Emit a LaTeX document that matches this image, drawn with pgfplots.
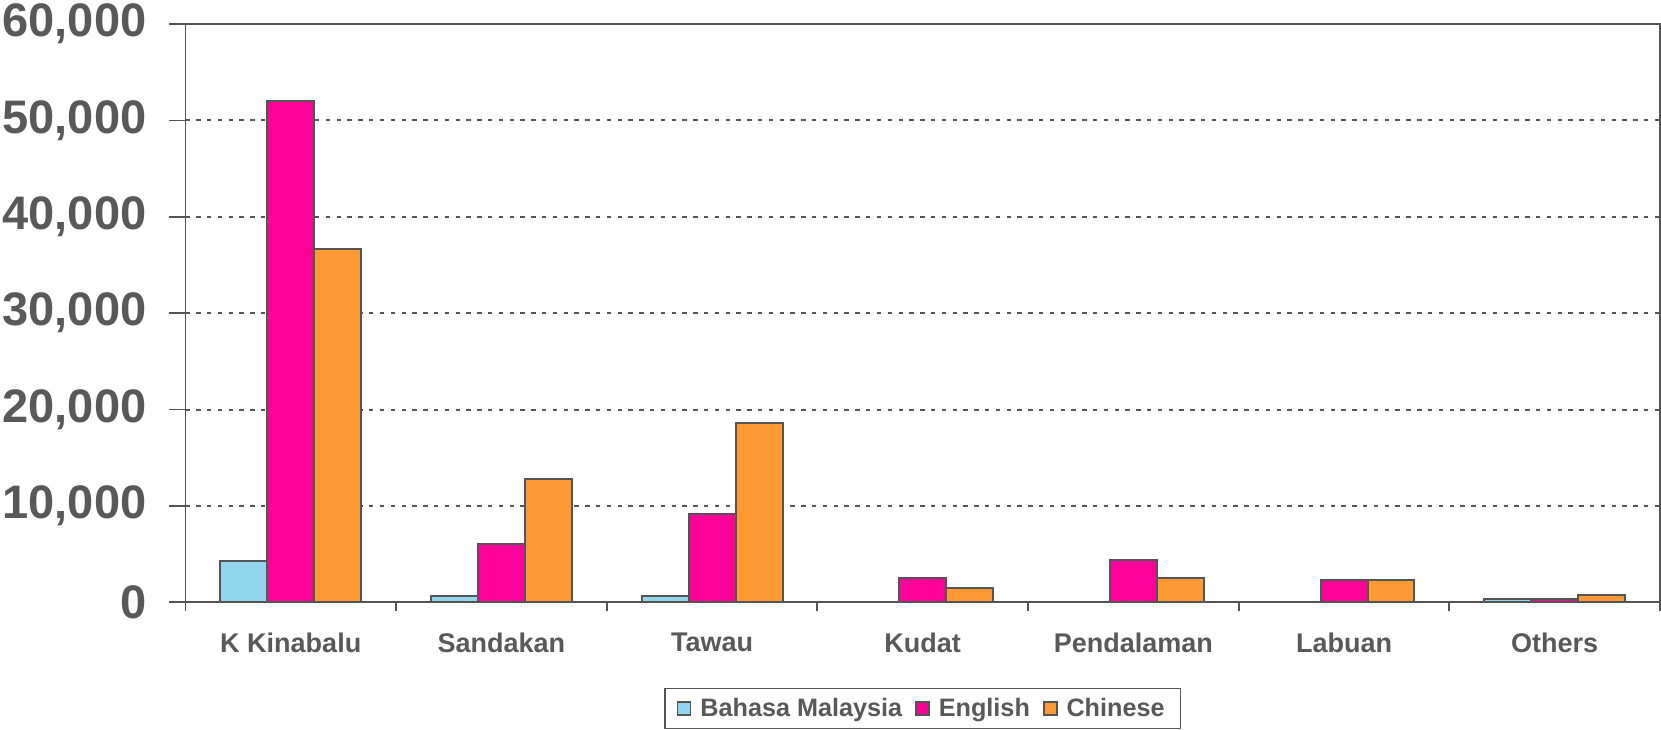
\documentclass[border=0pt]{standalone}
\usepackage{pgfplots}
\pgfplotsset{compat=1.18}
\usepackage{fontspec}
\setmainfont{Liberation Sans}
\definecolor{bmblue}{HTML}{93D5EC}
\definecolor{engpink}{HTML}{FF0099}
\definecolor{chiorange}{HTML}{FF9933}
\definecolor{edge}{HTML}{555555}
\definecolor{txt}{HTML}{595959}
\begin{document}
\begin{tikzpicture}
\begin{axis}[
  scale only axis,
  width=737pt, height=289pt,
  xmin=-0.5, xmax=6.5,
  ymin=0, ymax=60000,
  ytick={0,10000,...,60000},
  xtick={0,...,6},
  xticklabels={K Kinabalu,Sandakan,Tawau,Kudat,Pendalaman,Labuan,Others},
  minor xtick={-0.5,0.5,...,6.5},
  major x tick style={draw=none},
  minor tick length=4.5pt,
  major tick length=8pt,
  tick align=outside,
  xtick pos=bottom, ytick pos=left,
  axis line style={edge, line width=0.9pt},
  every tick/.style={edge, line width=0.9pt},
  ymajorgrids,
  grid style={edge, line width=1pt, dash pattern=on 2.2pt off 3.2pt},
  /pgf/number format/.cd, 1000 sep={,}, assume math mode=true,
  /pgfplots/.cd,
  yticklabel style={font=\fontsize{23.5}{23.5}\selectfont\bfseries, text=txt, inner ysep=2pt, inner xsep=1.3pt, xshift=-10pt},
  xticklabel style={font=\fontsize{13.5}{13.5}\selectfont\bfseries, text=txt, yshift=-4pt},
  scaled y ticks=false,
  bar width=0.223,
  legend columns=3,
  legend style={at={(0.5,-0.148)}, anchor=north, draw=edge, line width=0.8pt,
    font=\fontsize{12.6}{12.6}\selectfont\bfseries, text=txt,
    inner xsep=6pt, inner ysep=2.6pt,
    /tikz/every odd column/.append style={column sep=2.5pt},
    /tikz/every even column/.append style={column sep=4.5pt}},
  legend image code/.code={\draw[#1, draw=edge, line width=0.8pt] (0pt,-3.25pt) rectangle (6.5pt,3.25pt);},
]
\addplot[ybar, bar shift=-0.223, fill=bmblue, draw=edge, line width=1pt] coordinates {
 (0,4300) (1,600) (2,600) (3,0) (4,0) (5,0) (6,300)};
\addplot[ybar, bar shift=0, fill=engpink, draw=edge, line width=1pt] coordinates {
 (0,52000) (1,6000) (2,9200) (3,2500) (4,4400) (5,2300) (6,300)};
\addplot[ybar, bar shift=0.223, fill=chiorange, draw=edge, line width=1pt] coordinates {
 (0,36700) (1,12800) (2,18600) (3,1500) (4,2500) (5,2300) (6,800)};
\legend{Bahasa Malaysia,English,Chinese}
\end{axis}
\end{tikzpicture}
\end{document}
